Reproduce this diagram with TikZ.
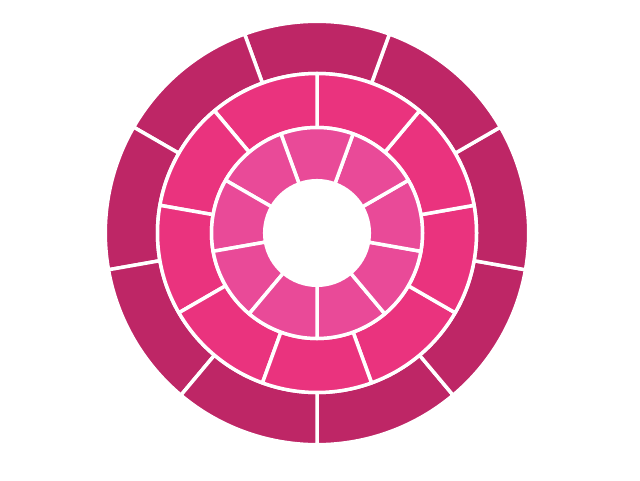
\documentclass[tikz,border=0pt]{standalone}
\definecolor{outerc}{RGB}{190,38,102}
\definecolor{midc}{RGB}{234,51,126}
\definecolor{innerc}{RGB}{233,74,152}
\begin{document}
\begin{tikzpicture}[x=1pt,y=1pt,
  seg/.style={draw=white, line width=3.5pt, line join=round}]
\useasboundingbox (0,0) rectangle (640,480);
\begin{scope}[shift={(317,247)}]
  % outer ring
  \foreach \k in {0,...,8} {
    \pgfmathsetmacro\a{-90+40*\k}
    \pgfmathsetmacro\b{\a+40}
    \path[seg, fill=outerc] (\a:159.5) -- (\a:211.7)
      arc[start angle=\a, end angle=\b, radius=211.7]
      -- (\b:159.5)
      arc[start angle=\b, end angle=\a, radius=159.5] -- cycle;
  }
  % middle ring
  \foreach \k in {0,...,8} {
    \pgfmathsetmacro\a{-70+40*\k}
    \pgfmathsetmacro\b{\a+40}
    \path[seg, fill=midc] (\a:105.5) -- (\a:159.5)
      arc[start angle=\a, end angle=\b, radius=159.5]
      -- (\b:105.5)
      arc[start angle=\b, end angle=\a, radius=105.5] -- cycle;
  }
  % inner ring
  \foreach \k in {0,...,8} {
    \pgfmathsetmacro\a{-90+40*\k}
    \pgfmathsetmacro\b{\a+40}
    \path[seg, fill=innerc] (\a:52.3) -- (\a:105.5)
      arc[start angle=\a, end angle=\b, radius=105.5]
      -- (\b:52.3)
      arc[start angle=\b, end angle=\a, radius=52.3] -- cycle;
  }
\end{scope}
\end{tikzpicture}
\end{document}
